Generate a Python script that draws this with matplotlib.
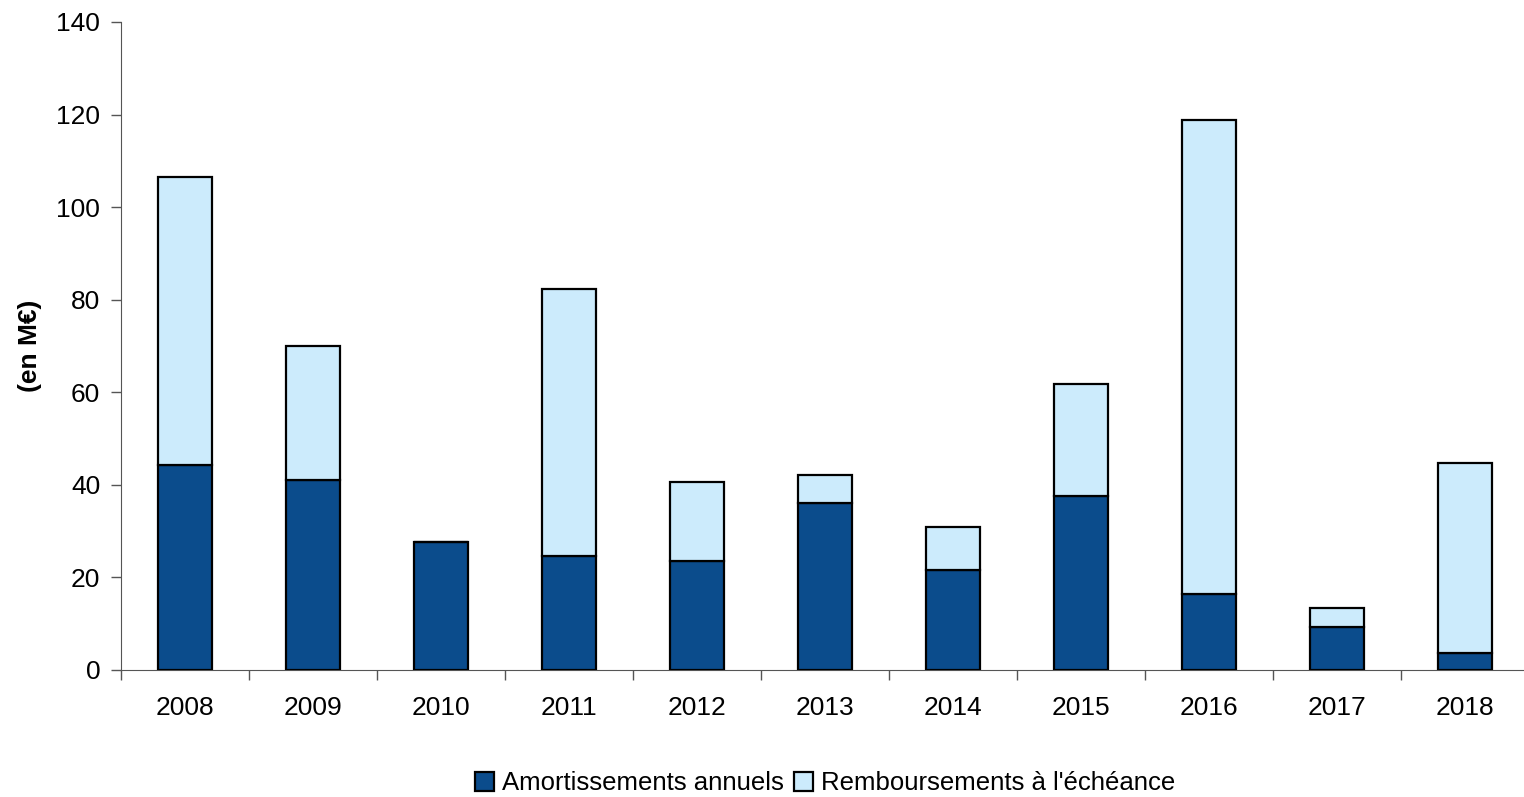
import matplotlib.pyplot as plt
import numpy as np

plt.rcParams['font.family'] = ['Liberation Sans', 'DejaVu Sans']

YEARS = ["2008", "2009", "2010", "2011", "2012", "2013", "2014", "2015", "2016", "2017", "2018"]
AMORT = [44.3, 41.0, 27.6, 24.6, 23.5, 36.1, 21.6, 37.6, 16.4, 9.3, 3.7]
REMB = [62.2, 29.0, 0.0, 57.7, 17.1, 6.0, 9.3, 24.2, 102.4, 4.1, 41.0]

DARK = '#0B4C8C'
LIGHT = '#CCEBFC'


def draw():
    fig = plt.figure(figsize=(15.24, 7.97), dpi=100)
    ax = fig.add_axes([0.0794, 0.1594, 0.924, 0.813])

    x = np.arange(len(YEARS))
    ax.bar(x, AMORT, width=0.42, color=DARK, edgecolor='black', linewidth=1.6,
           label="Amortissements annuels", zorder=3)
    ax.bar(x, REMB, width=0.42, bottom=AMORT, color=LIGHT, edgecolor='black',
           linewidth=1.6, label="Remboursements à l'échéance", zorder=3)

    ax.set_xlim(-0.5, len(YEARS) - 0.5)
    ax.set_ylim(0, 140)
    ax.set_yticks(range(0, 141, 20))
    ax.set_xticks(x)
    ax.set_xticklabels(YEARS)
    ax.set_xticks(np.arange(-0.5, len(YEARS), 1.0), minor=True)

    for side in ['top', 'right']:
        ax.spines[side].set_visible(False)
    ax.spines['left'].set_color('#555555')
    ax.spines['bottom'].set_color('#555555')

    ax.tick_params(axis='y', length=7, width=1, color='#555555', labelsize=19, pad=8)
    ax.tick_params(axis='x', which='major', length=0, labelsize=19, pad=19)
    ax.tick_params(axis='x', which='minor', length=7, width=1, color='#555555')

    ax.set_ylabel("(en M€)", fontsize=19, fontweight='bold', labelpad=10)

    ax.legend(loc='lower center', bbox_to_anchor=(0.5, -0.229), ncol=2, frameon=False,
              fontsize=18.5, handlelength=0.75, handleheight=0.75, handletextpad=0.3,
              columnspacing=0.4)

    fig.savefig('out.png', dpi=100)


if __name__ == "__main__":
    draw()
